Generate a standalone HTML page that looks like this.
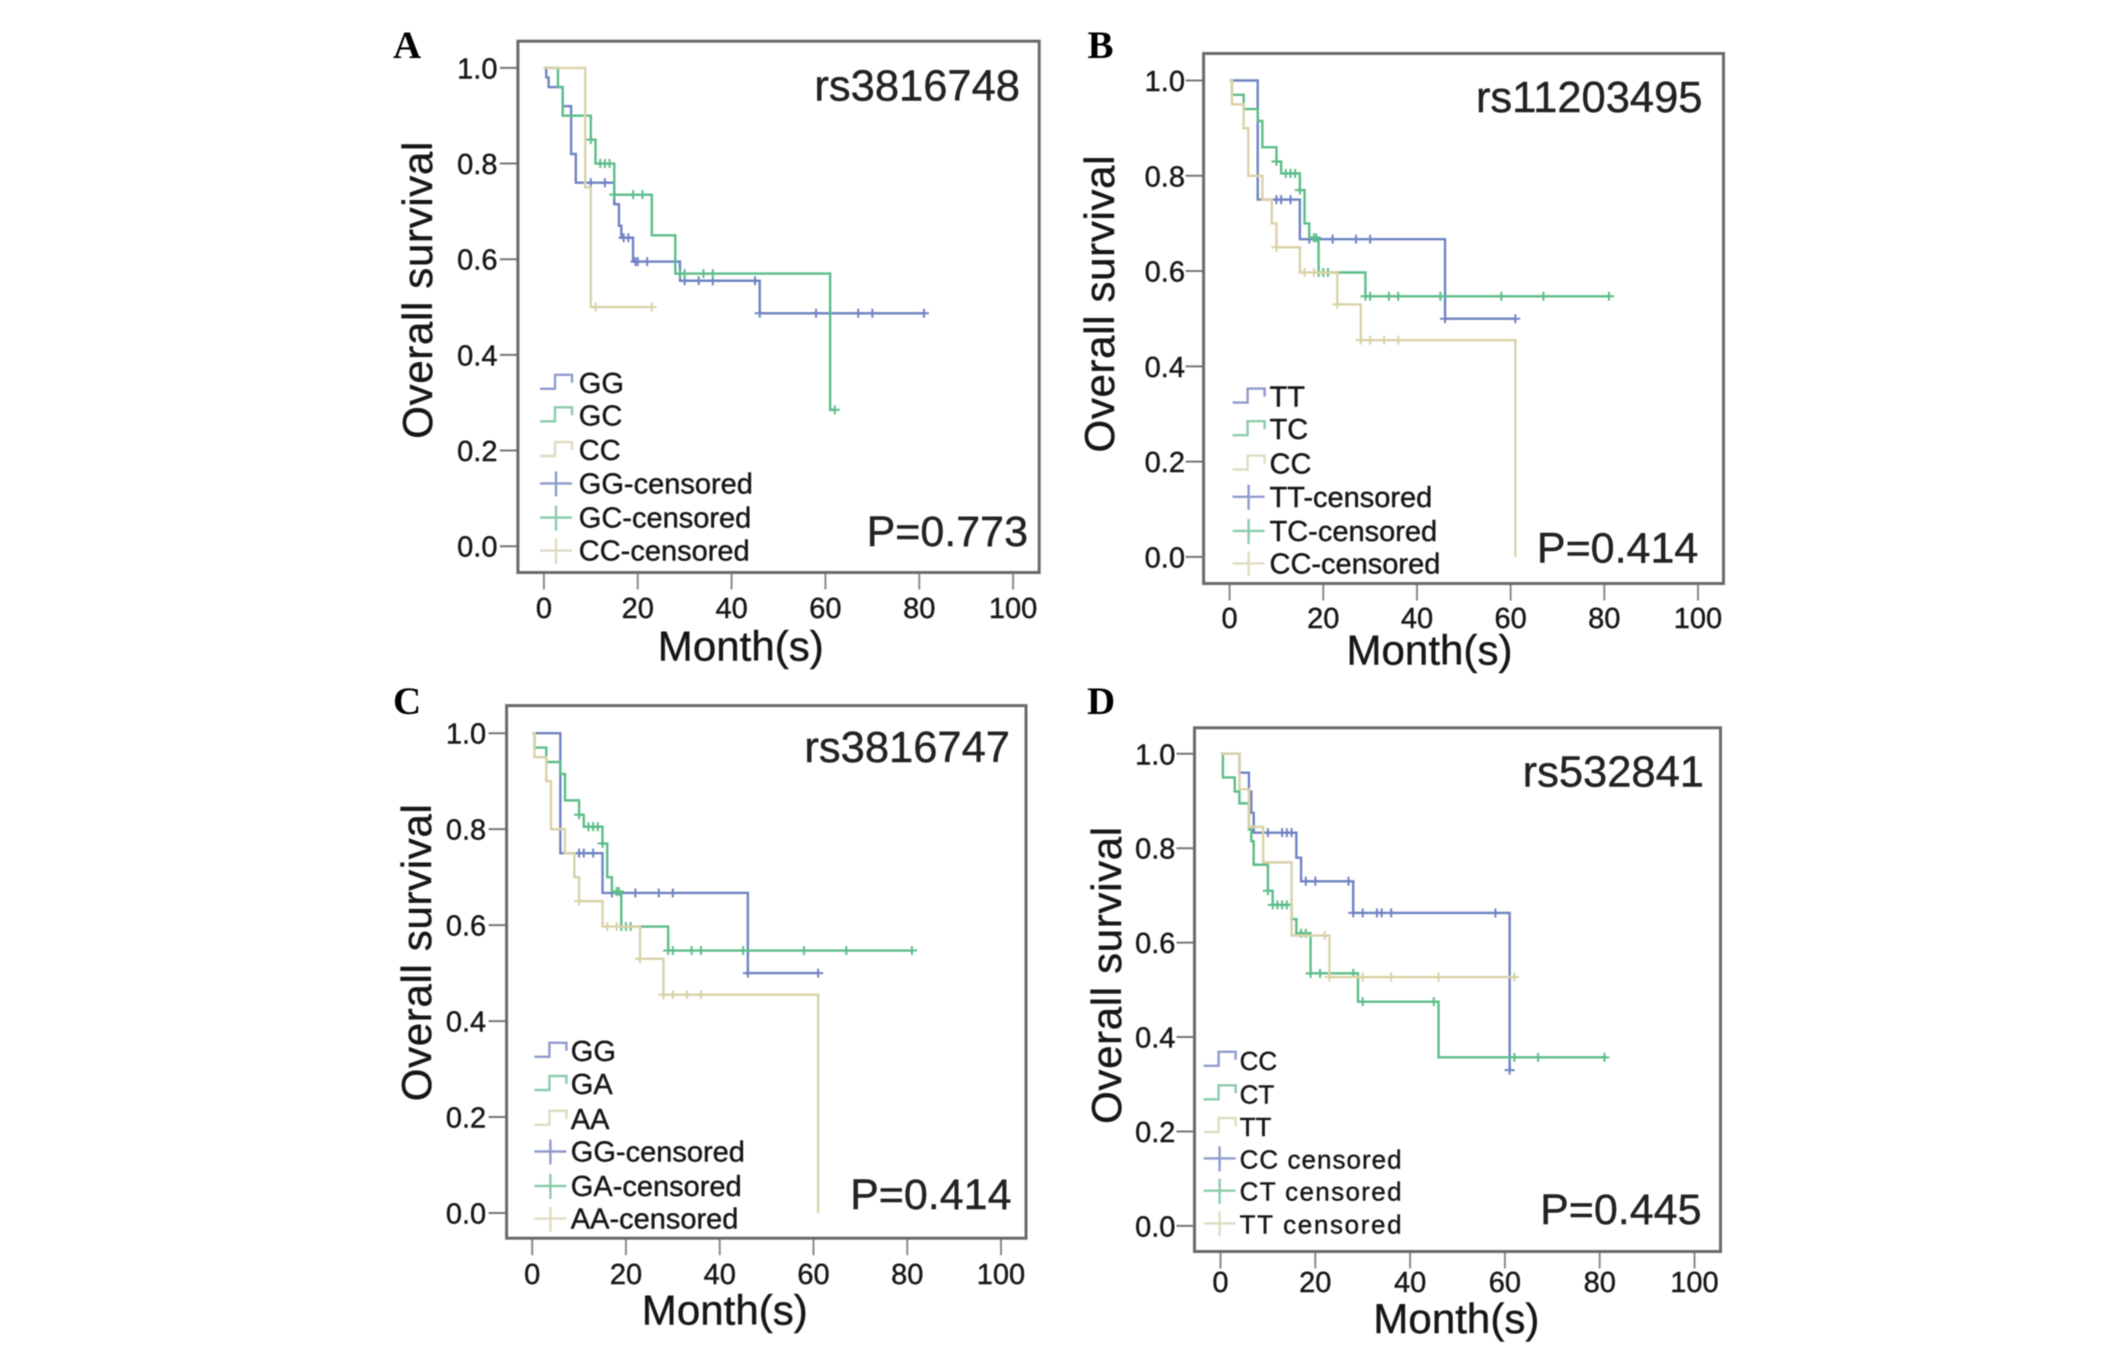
<!DOCTYPE html>
<html lang="en">
<head>
<meta charset="utf-8">
<title>Overall survival by genotype</title>
<style>
html,body{margin:0;padding:0;background:#fff;width:2126px;height:1348px;overflow:hidden}
svg{display:block}
text{font-family:"Liberation Sans",sans-serif;fill:#141414;stroke:#141414;stroke-width:0.4}
</style>
</head>
<body>
<svg id="figure" xmlns="http://www.w3.org/2000/svg" width="2126" height="1348" viewBox="0 0 2126 1348">
<defs>
<filter id="soft" filterUnits="userSpaceOnUse" x="0" y="0" width="2126" height="1348">
<feGaussianBlur stdDeviation="0.65"/>
</filter>
</defs>
<rect x="0" y="0" width="2126" height="1348" fill="#fff"/>
<g id="root" filter="url(#soft)"></g>
</svg>
<script>
// Shared axis ticks
const xTickValues = [0, 20, 40, 60, 80, 100];
const yTickValues = [0.0, 0.2, 0.4, 0.6, 0.8, 1.0];

// Panel A - rs3816748
const aLabels = ["GG", "GC", "CC"];
const aS1Months = [0, 0.5, 1, 4, 5.8, 6.8, 15, 16, 16.5, 19, 29, 46];
const aS1Surv = [1, 0.98, 0.96, 0.92, 0.82, 0.76, 0.715, 0.67, 0.645, 0.595, 0.555, 0.487];
const aS1Cens = [10, 13, 17, 18, 19.5, 20, 22, 28, 30, 33, 36, 45, 46, 58, 61, 67, 70, 81];
const aS2Months = [0, 3, 4, 10, 11, 15, 23, 28, 61];
const aS2Surv = [1, 0.96, 0.9, 0.85, 0.8, 0.735, 0.65, 0.57, 0.285];
const aS2Cens = [10, 12, 13, 14, 15, 19, 21, 29, 30, 34, 36, 62];
const aS3Months = [0, 8.8, 10];
const aS3Surv = [1, 0.75, 0.5];
const aS3Cens = [11, 23];

// Panel B - rs11203495
const bLabels = ["TT", "TC", "CC"];
const bS1Months = [0, 6, 15, 46];
const bS1Surv = [1, 0.75, 0.667, 0.5];
const bS1Cens = [10, 11, 13, 17, 22, 27, 30, 46, 61];
const bS2Months = [0, 0.5, 3, 6, 7, 10, 11, 15, 16, 17, 19, 29];
const bS2Surv = [1, 0.97, 0.94, 0.915, 0.86, 0.83, 0.805, 0.77, 0.7, 0.67, 0.597, 0.547];
const bS2Cens = [10, 12, 13, 14, 15, 18, 18.5, 19, 20, 21, 29, 30, 34, 36, 45, 58, 67, 81];
const bS3Months = [0, 0.5, 3, 4, 7, 9, 10, 15, 23, 28, 61];
const bS3Surv = [1, 0.95, 0.9, 0.8, 0.75, 0.7, 0.65, 0.597, 0.53, 0.455, 0];
const bS3Cens = [10, 16, 18, 23, 28, 30, 33, 36];

// Panel C - rs3816747
const cLabels = ["GG", "GA", "AA"];
const cS1Months = [0, 6, 15, 46];
const cS1Surv = [1, 0.75, 0.667, 0.5];
const cS1Cens = [10, 11, 13, 17, 22, 27, 30, 46, 61];
const cS2Months = [0, 0.5, 3, 6, 7, 10, 11, 15, 16, 17, 19, 29];
const cS2Surv = [1, 0.97, 0.94, 0.915, 0.86, 0.83, 0.805, 0.77, 0.7, 0.67, 0.597, 0.547];
const cS2Cens = [10, 12, 13, 14, 15, 18, 18.5, 19, 20, 21, 29, 30, 34, 36, 45, 58, 67, 81];
const cS3Months = [0, 0.5, 3, 4, 7, 9, 10, 15, 23, 28, 61];
const cS3Surv = [1, 0.95, 0.9, 0.8, 0.75, 0.7, 0.65, 0.597, 0.53, 0.455, 0];
const cS3Cens = [10, 16, 18, 23, 28, 30, 33, 36];

// Panel D - rs532841
const dLabels = ["CC", "CT", "TT"];
const dS1Months = [0, 4, 6, 6.5, 7, 16, 17, 28, 61];
const dS1Surv = [1, 0.96, 0.92, 0.875, 0.833, 0.78, 0.73, 0.663, 0.33];
const dS1Cens = [10, 13, 14, 15, 18, 20, 27, 28, 30, 33, 34, 36, 58, 61];
const dS2Months = [0, 0.5, 3, 4, 6, 6.5, 7, 10, 11, 15, 16, 19, 29, 46];
const dS2Surv = [1, 0.95, 0.92, 0.895, 0.84, 0.815, 0.765, 0.71, 0.68, 0.65, 0.62, 0.535, 0.475, 0.357];
const dS2Cens = [10, 11, 12, 13, 14, 17, 18, 19, 21, 28, 30, 45, 62, 67, 81];
const dS3Months = [0, 4, 6, 9, 15, 23];
const dS3Surv = [1, 0.925, 0.845, 0.77, 0.615, 0.527];
const dS3Cens = [22, 23, 30, 36, 46, 62];

const seriesColors = ["#6f83c4", "#5dbd8a", "#d9d2a8"];
const legendColors = ["#8e9bcd", "#8ccbaa", "#dfdcc0"];
const SVGNS = "http://www.w3.org/2000/svg";
const root = document.getElementById("root");

function make(tag, attrs, parent, content) {
  const el = document.createElementNS(SVGNS, tag);
  for (const key in attrs) el.setAttribute(key, attrs[key]);
  if (content !== undefined) el.textContent = content;
  parent.appendChild(el);
  return el;
}

function survivalAt(months, surv, t) {
  let value = surv[0];
  for (let i = 0; i < months.length; i++) {
    if (months[i] <= t) value = surv[i];
  }
  return value;
}

function drawPanel(cfg) {
  const g = make("g", {}, root);
  
  

  const xScale = m => cfg.x0 + (cfg.x100 - cfg.x0) * m / 100;
  const yScale = s => cfg.y0 + (cfg.y1 - cfg.y0) * s;

  const letter = make("text", {x: cfg.letterX, y: cfg.letterY, "font-size": 39, "font-weight": "bold", style: "font-family:'Liberation Serif',serif;fill:#000;stroke:none"}, g, cfg.letter);
  
  

  // X axis ticks and labels
  xTickValues.forEach(v => {
    const tick = make("line", {x1: xScale(v), x2: xScale(v), y1: cfg.bottom, y2: cfg.bottom + 17, stroke: "#8a8a8a", "stroke-width": 2}, g);
    
    
    const label = make("text", {x: xScale(v), y: cfg.xLabelY, "font-size": 29, "text-anchor": "middle"}, g, String(v));
    
    
  });

  // Y axis ticks and labels
  yTickValues.forEach(v => {
    const tick = make("line", {x1: cfg.left - 18, x2: cfg.left, y1: yScale(v), y2: yScale(v), stroke: "#777", "stroke-width": 2}, g);
    
    
    const label = make("text", {x: cfg.yLabelRight, y: yScale(v) + 10.5, "font-size": 29, "text-anchor": "end"}, g, v.toFixed(1));
    
    
  });

  const frame = make("rect", {x: cfg.left, y: cfg.top, width: cfg.right - cfg.left, height: cfg.bottom - cfg.top, fill: "none", stroke: "#6a6a6a", "stroke-width": 3}, g);
  
  

  // Series
  cfg.series.forEach((s, idx) => {
    let d = "M" + xScale(s.months[0]) + " " + yScale(s.surv[0]);
    for (let i = 1; i < s.months.length; i++) {
      d += "H" + xScale(s.months[i]) + "V" + yScale(s.surv[i]);
    }
    const lastCens = s.cens.length ? s.cens[s.cens.length - 1] : 0;
    const end = Math.max(lastCens, s.months[s.months.length - 1]);
    d += "H" + xScale(end);
    const curve = make("path", {d: d, fill: "none", stroke: seriesColors[idx], "stroke-width": 2.4}, g);
    
    
    s.cens.forEach(t => {
      const cx = xScale(t);
      const cy = yScale(survivalAt(s.months, s.surv, t));
      const mark = make("path", {d: "M" + (cx - 5) + " " + cy + "H" + (cx + 5) + "M" + cx + " " + (cy - 4.5) + "V" + (cy + 4.5), fill: "none", stroke: seriesColors[idx], "stroke-width": 2}, g);
      
      
    });
  });

  // Axis titles
  const xt = make("text", {x: cfg.monthX, y: cfg.monthY, "font-size": 42, "text-anchor": "middle", textLength: 166, lengthAdjust: "spacing"}, g, "Month(s)");
  
  
  const yt = make("text", {x: 0, y: 0, "font-size": 42, "text-anchor": "middle", textLength: 297, lengthAdjust: "spacing", transform: "translate(" + cfg.survX + " " + cfg.survY + ") rotate(-90)"}, g, "Overall survival");
  
  

  // Annotations
  const rs = make("text", {x: cfg.rsRight, y: cfg.rsY, "font-size": 43.5, "text-anchor": "end", style: "fill:#222;stroke:#222"}, g, cfg.snp);
  
  
  const pv = make("text", {x: cfg.pRight, y: cfg.pY, "font-size": 43, "text-anchor": "end", style: "fill:#222;stroke:#222"}, g, cfg.pValue);
  
  

  // Legend
  const sep = cfg.censoredSep;
  const fullLabels = cfg.labels.concat(cfg.labels.map(l => l + sep + "censored"));
  fullLabels.forEach((label, i) => {
    const by = cfg.legendYs[i];
    const c = legendColors[i % 3];
    const L = cfg.legendSymX;
    const entry = make("g", {}, g);
    
    
    if (i < 3) {
      make("path", {d: "M" + L + " " + (by - 4) + "H" + (L + 15) + "V" + (by - 18) + "H" + (L + 32) + "V" + (by - 10), fill: "none", stroke: c, "stroke-width": 2.4}, entry);
    } else {
      make("path", {d: "M" + L + " " + (by - 10) + "H" + (L + 32) + "M" + (L + 16) + " " + (by - 22) + "V" + (by + 3), fill: "none", stroke: c, "stroke-width": 2.4}, entry);
    }
    const attrs = {x: cfg.legendTextX, y: by, "font-size": cfg.legendFont};
    if (i >= 3 && cfg.legendLen) { attrs.textLength = cfg.legendLen; attrs.lengthAdjust = "spacing"; }
    make("text", attrs, entry, label);
  });
}

drawPanel({
  letter: "A", letterX: 393, letterY: 58, snp: "rs3816748", pValue: "P=0.773",
  left: 517.9, right: 1039.2, top: 41.2, bottom: 572.5,
  x0: 543.9, x100: 1013.1, y1: 67.9, y0: 546.2,
  yLabelRight: 497.5, xLabelY: 618, monthX: 740.8, monthY: 660.3, survX: 432, survY: 290.2,
  rsRight: 1020, rsY: 100.6, pRight: 1028, pY: 546,
  legendYs: [392.8, 425.3, 460, 493.4, 527.6, 560.6], legendSymX: 540, legendTextX: 578.8, legendFont: 29, censoredSep: "-",
  labels: aLabels,
  series: [
    {months: aS1Months, surv: aS1Surv, cens: aS1Cens},
    {months: aS2Months, surv: aS2Surv, cens: aS2Cens},
    {months: aS3Months, surv: aS3Surv, cens: aS3Cens}
  ]
});

drawPanel({
  letter: "B", letterX: 1087.5, letterY: 58, snp: "rs11203495", pValue: "P=0.414",
  left: 1203.6, right: 1723.5, top: 53.5, bottom: 583.5,
  x0: 1229.6, x100: 1698, y1: 80.5, y0: 556.9,
  yLabelRight: 1185, xLabelY: 628.2, monthX: 1429.5, monthY: 664.5, survX: 1113.8, survY: 304,
  rsRight: 1702.5, rsY: 111.8, pRight: 1698.3, pY: 562.3,
  legendYs: [406.6, 439.2, 473.6, 506.8, 540.9, 573.4], legendSymX: 1232.6, legendTextX: 1269.5, legendFont: 29, censoredSep: "-",
  labels: bLabels,
  series: [
    {months: bS1Months, surv: bS1Surv, cens: bS1Cens},
    {months: bS2Months, surv: bS2Surv, cens: bS2Cens},
    {months: bS3Months, surv: bS3Surv, cens: bS3Cens}
  ]
});

drawPanel({
  letter: "C", letterX: 393, letterY: 714, snp: "rs3816747", pValue: "P=0.414",
  left: 506.6, right: 1026, top: 705.6, bottom: 1238.2,
  x0: 532.2, x100: 1001, y1: 733.2, y0: 1213,
  yLabelRight: 486.2, xLabelY: 1284.2, monthX: 724.8, monthY: 1324.6, survX: 431.2, survY: 952.7,
  rsRight: 1010, rsY: 762.2, pRight: 1011.5, pY: 1208.8,
  legendYs: [1060.8, 1094, 1128.8, 1161.5, 1196, 1228.6], legendSymX: 534.4, legendTextX: 570.8, legendFont: 29, censoredSep: "-",
  labels: cLabels,
  series: [
    {months: cS1Months, surv: cS1Surv, cens: cS1Cens},
    {months: cS2Months, surv: cS2Surv, cens: cS2Cens},
    {months: cS3Months, surv: cS3Surv, cens: cS3Cens}
  ]
});

drawPanel({
  letter: "D", letterX: 1087, letterY: 714, snp: "rs532841", pValue: "P=0.445",
  left: 1194.5, right: 1720.5, top: 727.8, bottom: 1251.5,
  x0: 1220.5, x100: 1694.5, y1: 753.8, y0: 1225.9,
  yLabelRight: 1175.4, xLabelY: 1292.2, monthX: 1456.4, monthY: 1332.9, survX: 1121.2, survY: 975.4,
  rsRight: 1704, rsY: 786.5, pRight: 1701.5, pY: 1223.8,
  legendYs: [1069.8, 1103.3, 1136.1, 1168.4, 1200.7, 1233.4], legendSymX: 1203.6, legendTextX: 1239.6, legendFont: 26, legendLen: 162, censoredSep: " ",
  labels: dLabels,
  series: [
    {months: dS1Months, surv: dS1Surv, cens: dS1Cens},
    {months: dS2Months, surv: dS2Surv, cens: dS2Cens},
    {months: dS3Months, surv: dS3Surv, cens: dS3Cens}
  ]
});
</script>
</body>
</html>
